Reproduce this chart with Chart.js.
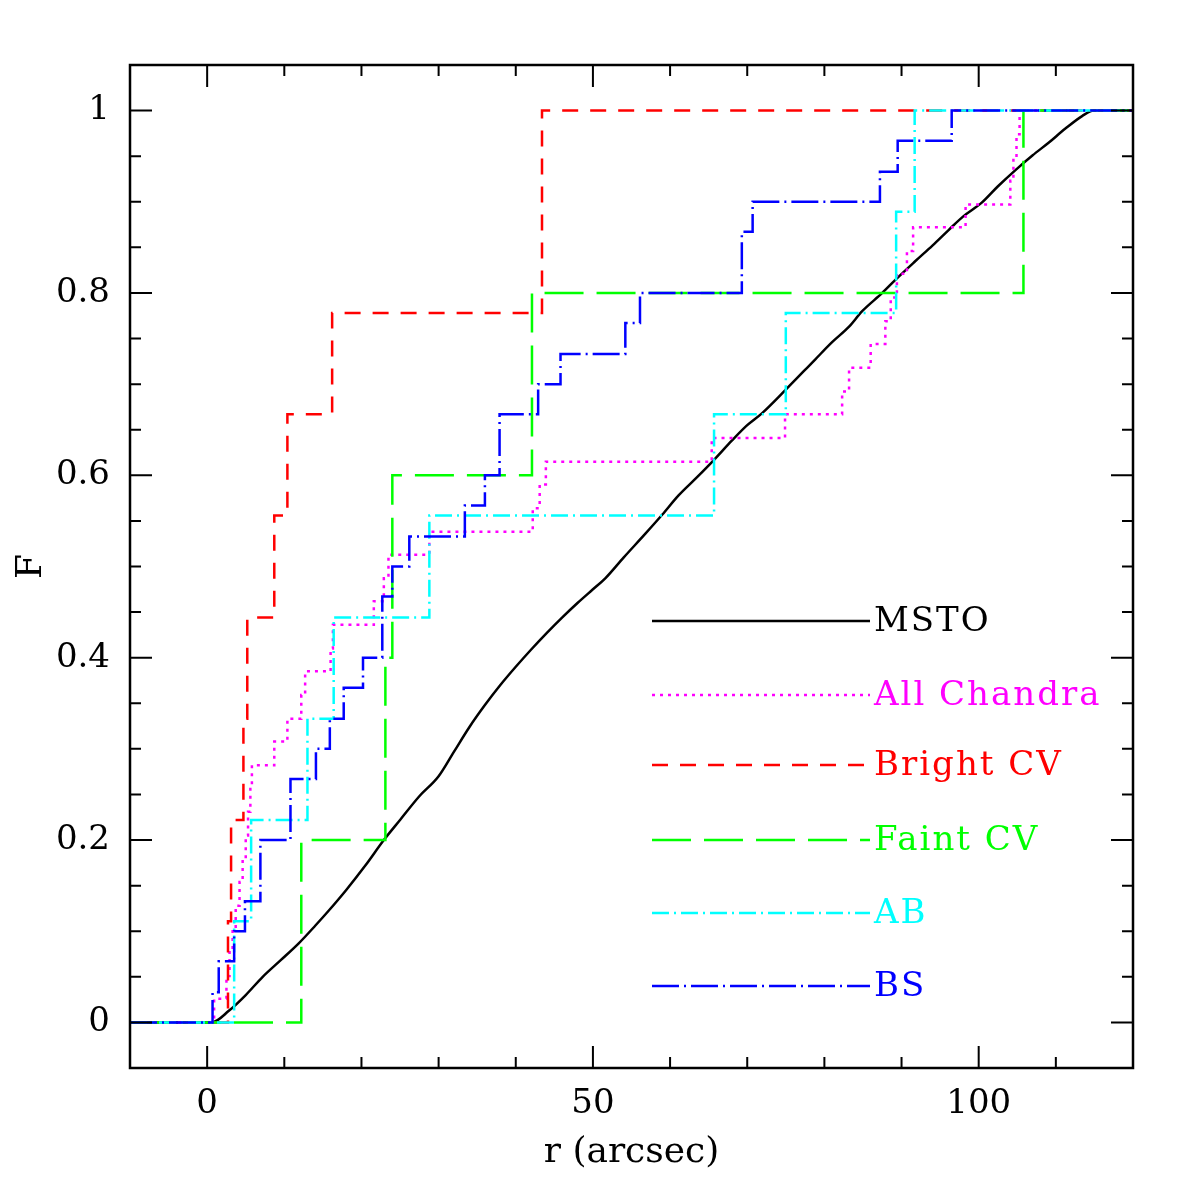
<!DOCTYPE html>
<html>
<head>
<meta charset="utf-8">
<script src="https://cdn.jsdelivr.net/npm/chart.js@4/dist/chart.umd.min.js"></script>
<style>
html,body{margin:0;padding:0;background:#fff;}
canvas{display:block;}
</style>
</head>
<body>
<canvas id="c" width="1196" height="1196"></canvas>
<script>
// ---- Data ----
const mstoR = [-10, 0.6, 2.85, 5.0, 7.2, 9.5, 11.9, 14.0, 15.8, 18.0, 20.5, 22.9, 25.0, 27.5, 30.0, 32.0, 34.0, 36.0, 38.0, 40.0, 42.0, 44.0, 46.0, 48.0, 50.0, 51.6, 54.0, 56.8, 59.0, 61.1, 63.5, 65.7, 68.0, 70.0, 71.9, 75.0, 78.8, 81.0, 83.2, 84.9, 87.5, 89.4, 91.8, 94.0, 96.1, 98.0, 100.4, 102.5, 104.8, 107.0, 109.1, 111.2, 113.4, 114.9, 120];
const mstoF = [0, 0, 0.013, 0.03, 0.05, 0.068, 0.087, 0.106, 0.123, 0.145, 0.172, 0.2, 0.222, 0.248, 0.27, 0.297, 0.324, 0.348, 0.37, 0.39, 0.409, 0.427, 0.444, 0.46, 0.475, 0.487, 0.51, 0.536, 0.557, 0.578, 0.598, 0.617, 0.638, 0.655, 0.668, 0.694, 0.727, 0.746, 0.763, 0.78, 0.80, 0.816, 0.835, 0.852, 0.869, 0.884, 0.899, 0.917, 0.935, 0.951, 0.965, 0.98, 0.994, 1.0, 1.0];

const chandraR = [-10, 0.9, 2.5, 2.9, 3.3, 3.7, 4.2, 4.6, 5.0, 5.3, 5.6, 5.8, 8.7, 10.4, 12.2, 12.7, 16.0, 16.3, 21.6, 22.9, 23.5, 28.8, 42.2, 43.1, 43.9, 65.4, 74.9, 82.3, 83.2, 86.0, 87.9, 88.6, 89.4, 90.7, 91.5, 98.3, 104.1, 104.5, 104.9, 105.3, 120];
const chandraF = [0, 0.026, 0.051, 0.077, 0.103, 0.128, 0.154, 0.179, 0.205, 0.231, 0.256, 0.282, 0.308, 0.333, 0.359, 0.385, 0.410, 0.436, 0.462, 0.487, 0.513, 0.538, 0.564, 0.590, 0.615, 0.641, 0.667, 0.692, 0.718, 0.744, 0.769, 0.795, 0.821, 0.846, 0.872, 0.897, 0.923, 0.949, 0.974, 1.0, 1.0];

const brightR = [-10, 2.7, 3.1, 4.7, 5.2, 8.7, 10.4, 16.2, 43.4, 120];
const brightF = [0, 0.111, 0.222, 0.333, 0.444, 0.556, 0.667, 0.778, 1.0, 1.0];

const faintR = [-10, 12.2, 23.1, 24.0, 42.1, 105.8, 120];
const faintF = [0, 0.2, 0.4, 0.6, 0.8, 1.0, 1.0];

const abR = [-10, 3.5, 5.7, 13.0, 16.4, 28.8, 65.7, 75.0, 89.3, 91.7, 120];
const abF = [0, 0.111, 0.222, 0.333, 0.444, 0.556, 0.667, 0.778, 0.889, 1.0, 1.0];

const bsR = [-10, 0.7, 1.5, 3.5, 4.9, 6.9, 10.8, 14.1, 15.9, 17.7, 20.2, 22.7, 24.0, 26.2, 33.4, 36.0, 37.9, 42.9, 45.8, 54.2, 56.1, 69.3, 70.7, 87.2, 89.5, 96.5, 120];
const bsF = [0, 0.033, 0.067, 0.1, 0.133, 0.2, 0.267, 0.3, 0.333, 0.367, 0.4, 0.467, 0.5, 0.533, 0.567, 0.6, 0.667, 0.7, 0.733, 0.767, 0.8, 0.867, 0.9, 0.933, 0.967, 1.0, 1.0];

const seriesNames = ["MSTO", "All Chandra", "Bright CV", "Faint CV", "AB", "BS"];

const xTickValues = [0, 50, 100];
const xTickLabels = ["0", "50", "100"];
const yTickValues = [0, 0.2, 0.4, 0.6, 0.8, 1.0];
const yTickLabels = ["0", "0.2", "0.4", "0.6", "0.8", "1"];
const xMinorTicks = [-10, 10, 20, 30, 40, 60, 70, 80, 90, 110, 120];
const yMinorTicks = [0.05, 0.1, 0.15, 0.25, 0.3, 0.35, 0.45, 0.5, 0.55, 0.65, 0.7, 0.75, 0.85, 0.9, 0.95];

const xTitle = "r (arcsec)";
const yTitle = "F";

// ---- Styles ----
const SERIF = "'DejaVu Serif', 'Liberation Serif', serif";
const styles = [
  {color: "#000000", dash: [], stepped: false},
  {color: "#ff00ff", dash: [3, 5], stepped: "before"},
  {color: "#ff0000", dash: [16, 12], stepped: "before"},
  {color: "#00ff00", dash: [39, 13], stepped: "before"},
  {color: "#00ffff", dash: [17, 5, 2, 5], stepped: "before"},
  {color: "#0000ff", dash: [27, 5, 2, 5], stepped: "before"}
];
const seriesR = [mstoR, chandraR, brightR, faintR, abR, bsR];
const seriesF = [mstoF, chandraF, brightF, faintF, abF, bsF];

const datasets = seriesNames.map((name, i) => ({
  label: name,
  data: seriesR[i].map((r, j) => ({x: r, y: seriesF[i][j]})),
  showLine: true,
  borderColor: styles[i].color,
  backgroundColor: styles[i].color,
  borderWidth: 2.5,
  borderDash: styles[i].dash,
  stepped: styles[i].stepped,
  cubicInterpolationMode: i === 0 ? "monotone" : "default",
  pointRadius: 0,
  fill: false,
  order: 6 - i
}));

const framePlugin = {
  id: "frame",
  afterDatasetsDraw(chart) {
    const {ctx, chartArea: a, scales: {x, y}} = chart;
    ctx.save();
    ctx.setLineDash([]);
    ctx.strokeStyle = "#000";
    ctx.lineWidth = 2;
    ctx.beginPath();
    const tick = (px, len, vertical) => {
      if (vertical) {
        ctx.moveTo(px, a.bottom); ctx.lineTo(px, a.bottom - len);
        ctx.moveTo(px, a.top); ctx.lineTo(px, a.top + len);
      } else {
        ctx.moveTo(a.left, px); ctx.lineTo(a.left + len, px);
        ctx.moveTo(a.right, px); ctx.lineTo(a.right - len, px);
      }
    };
    xTickValues.forEach(v => tick(x.getPixelForValue(v), 22, true));
    xMinorTicks.forEach(v => tick(x.getPixelForValue(v), 11, true));
    yTickValues.forEach(v => tick(y.getPixelForValue(v), 22, false));
    yMinorTicks.forEach(v => tick(y.getPixelForValue(v), 11, false));
    ctx.stroke();
    ctx.lineWidth = 2.5;
    ctx.strokeRect(a.left, a.top, a.right - a.left, a.bottom - a.top);

    // Legend (inside plot, lower right)
    const lx0 = 652, lx1 = 870, tx = 874;
    const rows = [621, 695, 765, 840, 913, 986];
    ctx.font = "34px " + SERIF;
    try { ctx.letterSpacing = "2px"; } catch (e) {}
    ctx.textBaseline = "middle";
    ctx.textAlign = "left";
    seriesNames.forEach((name, i) => {
      ctx.strokeStyle = styles[i].color;
      ctx.lineWidth = 2.5;
      ctx.setLineDash(styles[i].dash);
      ctx.beginPath();
      ctx.moveTo(lx0, rows[i]);
      ctx.lineTo(lx1, rows[i]);
      ctx.stroke();
      ctx.setLineDash([]);
      ctx.fillStyle = styles[i].color;
      ctx.fillText(name, tx, rows[i] + 1);
    });
    ctx.restore();
  }
};

new Chart(document.getElementById("c"), {
  type: "scatter",
  data: {datasets},
  options: {
    responsive: false,
    animation: false,
    devicePixelRatio: 1,
    layout: {padding: {top: 65, right: 63, left: 0, bottom: 0}},
    plugins: {legend: {display: false}, tooltip: {enabled: false}},
    scales: {
      x: {
        type: "linear",
        min: -10, max: 120,
        afterBuildTicks: s => { s.ticks = xTickValues.map(v => ({value: v})); },
        afterFit: s => { s.height = 128; },
        grid: {display: false, drawTicks: false},
        border: {display: false},
        ticks: {
          padding: 16,
          color: "#000",
          font: {family: SERIF, size: 34},
          maxRotation: 0,
          callback: (v) => { const k = xTickValues.indexOf(v); return k >= 0 ? xTickLabels[k] : ""; }
        },
        title: {display: true, text: xTitle, color: "#000", font: {family: SERIF, size: 36}, padding: {top: 0, bottom: 22}}
      },
      y: {
        type: "linear",
        min: -0.05, max: 1.05,
        afterBuildTicks: s => { s.ticks = yTickValues.map(v => ({value: v})); },
        afterFit: s => { s.width = 130; },
        grid: {display: false, drawTicks: false},
        border: {display: false},
        ticks: {
          padding: 20,
          color: "#000",
          font: {family: SERIF, size: 34},
          callback: (v) => { const k = yTickValues.findIndex(t => Math.abs(t - v) < 1e-9); return k >= 0 ? yTickLabels[k] : ""; }
        },
        title: {display: true, text: yTitle, color: "#000", font: {family: SERIF, size: 36}, padding: {top: 10, bottom: 0}}
      }
    }
  },
  plugins: [framePlugin]
});
</script>
</body>
</html>
